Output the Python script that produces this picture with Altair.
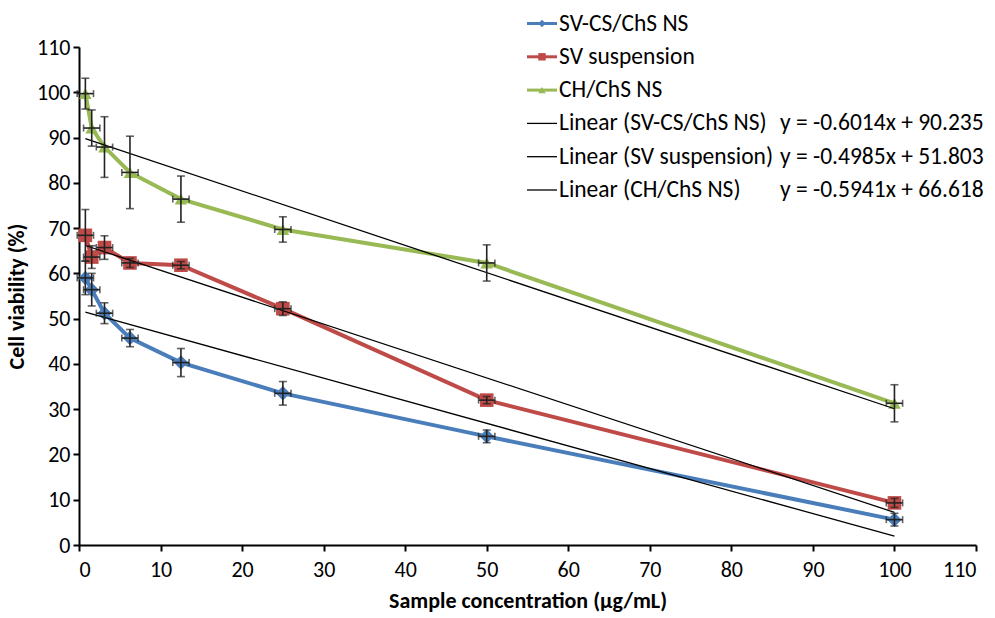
import altair as alt
import pandas as pd

# ---------------- data ----------------
conc = [0.78, 1.56, 3.125, 6.25, 12.5, 25, 50, 100]
series_names = ["SV-CS/ChS NS", "SV suspension", "CH/ChS NS"]
sv_cs = [59.0, 56.4, 51.2, 45.7, 40.3, 33.5, 24.0, 5.6]
sv_cs_err = [3.7, 3.6, 2.3, 1.9, 3.1, 2.6, 1.4, 1.4]
sv_susp = [68.4, 63.6, 65.7, 62.3, 61.8, 52.2, 32.0, 9.3]
sv_susp_err = [5.7, 2.5, 2.6, 1.0, 0.8, 1.5, 0.8, 1.0]
ch = [99.7, 92.1, 87.9, 82.3, 76.4, 69.7, 62.3, 31.3]
ch_err = [3.4, 4.0, 6.7, 8.0, 5.1, 2.8, 4.0, 4.1]
x_err = [1.0] * len(conc)

trend_names = ["Linear (SV-CS/ChS NS)", "Linear (SV suspension)", "Linear (CH/ChS NS)"]
trend_eqs = ["y = -0.6014x + 90.235", "y = -0.4985x + 51.803", "y = -0.5941x + 66.618"]
slopes = [-0.6014, -0.4985, -0.5941]
intercepts = [90.235, 51.803, 66.618]

colors = ["#4A7EBB", "#BE4B48", "#98B954"]
shapes = ["diamond", "square", "triangle-up"]
marker_sizes = [210, 160, 220]

FONT = "Carlito, Lato, sans-serif"

# ---------------- tables ----------------
vals = [sv_cs, sv_susp, ch]
errs = [sv_cs_err, sv_susp_err, ch_err]
rows = []
for s, name in enumerate(series_names):
    for i, x in enumerate(conc):
        v = vals[s][i]
        e = errs[s][i]
        rows.append({"series": name, "order": i, "x": x, "y": v,
                     "ylo": v - e, "yhi": v + e,
                     "xlo": x - x_err[i], "xhi": x + x_err[i]})
df = pd.DataFrame(rows)

trows = []
for k, name in enumerate(trend_names):
    for x in (conc[0], conc[-1]):
        trows.append({"trend": name, "x": x, "y": slopes[k] * x + intercepts[k]})
tdf = pd.DataFrame(trows)

xs = alt.Scale(domain=[0, 110], nice=False, zero=False)
ys = alt.Scale(domain=[0, 110], nice=False, zero=False)
cscale = alt.Scale(domain=series_names, range=colors)
shscale = alt.Scale(domain=series_names, range=shapes)

xaxis = alt.Axis(values=list(range(0, 111, 10)), grid=False, domainColor="black", domainWidth=2,
                 tickColor="black", tickWidth=2, tickSize=6, labelFont=FONT, labelFontSize=22,
                 labelColor="black", labelPadding=8, title="Sample concentration (μg/mL)",
                 titleFont=FONT, titleFontSize=22, titleFontWeight="bold", titleColor="black",
                 titlePadding=10)
yaxis = alt.Axis(values=list(range(0, 111, 10)), grid=False, domainColor="black", domainWidth=2,
                 tickColor="black", tickWidth=2, tickSize=6, labelFont=FONT, labelFontSize=22,
                 labelColor="black", labelPadding=3, title="Cell viability (%)",
                 titleFont=FONT, titleFontSize=22, titleFontWeight="bold", titleColor="black",
                 titlePadding=8)

base = alt.Chart(df)

lines = base.mark_line(strokeWidth=4, clip=False).encode(
    x=alt.X("x:Q", scale=xs, axis=xaxis),
    y=alt.Y("y:Q", scale=ys, axis=yaxis),
    color=alt.Color("series:N", scale=cscale, legend=None),
    order="order:Q",
)
points = base.mark_point(filled=True, opacity=1, clip=False).encode(
    x=alt.X("x:Q", scale=xs),
    y=alt.Y("y:Q", scale=ys),
    color=alt.Color("series:N", scale=cscale, legend=None),
    shape=alt.Shape("series:N", scale=shscale, legend=None),
    size=alt.Size("series:N", scale=alt.Scale(domain=series_names, range=marker_sizes), legend=None),
)
trend = alt.Chart(tdf).mark_line(color="black", strokeWidth=1.3).encode(
    x=alt.X("x:Q", scale=xs),
    y=alt.Y("y:Q", scale=ys),
    detail="trend:N",
)
vbar = base.mark_rule(color="#222", strokeWidth=1.6).encode(
    x=alt.X("x:Q", scale=xs), y=alt.Y("ylo:Q", scale=ys), y2="yhi:Q")
vcap_lo = base.mark_tick(color="#222", thickness=1.6, size=8, orient="horizontal").encode(
    x=alt.X("x:Q", scale=xs), y=alt.Y("ylo:Q", scale=ys))
vcap_hi = base.mark_tick(color="#222", thickness=1.6, size=8, orient="horizontal").encode(
    x=alt.X("x:Q", scale=xs), y=alt.Y("yhi:Q", scale=ys))
hbar = base.mark_rule(color="#222", strokeWidth=1.6).encode(
    y=alt.Y("y:Q", scale=ys), x=alt.X("xlo:Q", scale=xs), x2="xhi:Q")
hcap_lo = base.mark_tick(color="#222", thickness=1.6, size=7, orient="vertical").encode(
    x=alt.X("xlo:Q", scale=xs), y=alt.Y("y:Q", scale=ys))
hcap_hi = base.mark_tick(color="#222", thickness=1.6, size=7, orient="vertical").encode(
    x=alt.X("xhi:Q", scale=xs), y=alt.Y("y:Q", scale=ys))

# ---------------- legend (drawn manually) ----------------
row0 = -23.5
spacing = 33.3
sym_x0, sym_x1 = 448, 478
text_x = 480
eq_x = 701

lrows = []
for i, name in enumerate(series_names):
    lrows.append({"label": name, "eq": "", "row": i, "kind": "series",
                  "col": colors[i], "shape": shapes[i]})
for k, name in enumerate(trend_names):
    lrows.append({"label": name, "eq": trend_eqs[k], "row": 3 + k, "kind": "trend",
                  "col": "black", "shape": ""})
ldf = pd.DataFrame(lrows)
ldf["py"] = row0 + ldf["row"] * spacing
ldf["px0"] = sym_x0
ldf["px1"] = sym_x1
ldf["pxm"] = (sym_x0 + sym_x1) / 2
ldf["pxt"] = text_x
ldf["pxe"] = eq_x

lbase = alt.Chart(ldf)
leg_lines = lbase.mark_rule(clip=False).encode(
    x=alt.X("px0:Q", scale=None), x2="px1:Q", y=alt.Y("py:Q", scale=None),
    color=alt.Color("col:N", scale=None),
    strokeWidth=alt.condition("datum.kind == 'series'", alt.value(3), alt.value(1.3)),
)
leg_pts = lbase.transform_filter("datum.kind == 'series'").mark_point(
    filled=True, opacity=1, size=55, clip=False).encode(
    x=alt.X("pxm:Q", scale=None), y=alt.Y("py:Q", scale=None),
    color=alt.Color("col:N", scale=None),
    shape=alt.Shape("shape:N", scale=None),
)
leg_text = lbase.mark_text(align="left", baseline="middle", font=FONT, fontSize=23.5,
                           color="black", clip=False).encode(
    x=alt.X("pxt:Q", scale=None), y=alt.Y("py:Q", scale=None), text="label:N")
leg_eq = lbase.transform_filter("datum.kind == 'trend'").mark_text(
    align="left", baseline="middle", font=FONT, fontSize=23.5, color="black", clip=False).encode(
    x=alt.X("pxe:Q", scale=None), y=alt.Y("py:Q", scale=None), text="eq:N")

chart = alt.layer(
    lines, points, trend, vbar, vcap_lo, vcap_hi, hbar, hcap_lo, hcap_hi,
    leg_lines, leg_pts, leg_text, leg_eq,
).resolve_scale(color="independent", shape="independent").properties(
    width=897, height=498,
    autosize=alt.AutoSizeParams(type="none"),
    padding={"left": 79, "top": 47, "right": 19, "bottom": 73},
    background="white",
).configure_view(stroke=None)

chart.save("out.html", embed_options={"renderer": "svg", "actions": False})
